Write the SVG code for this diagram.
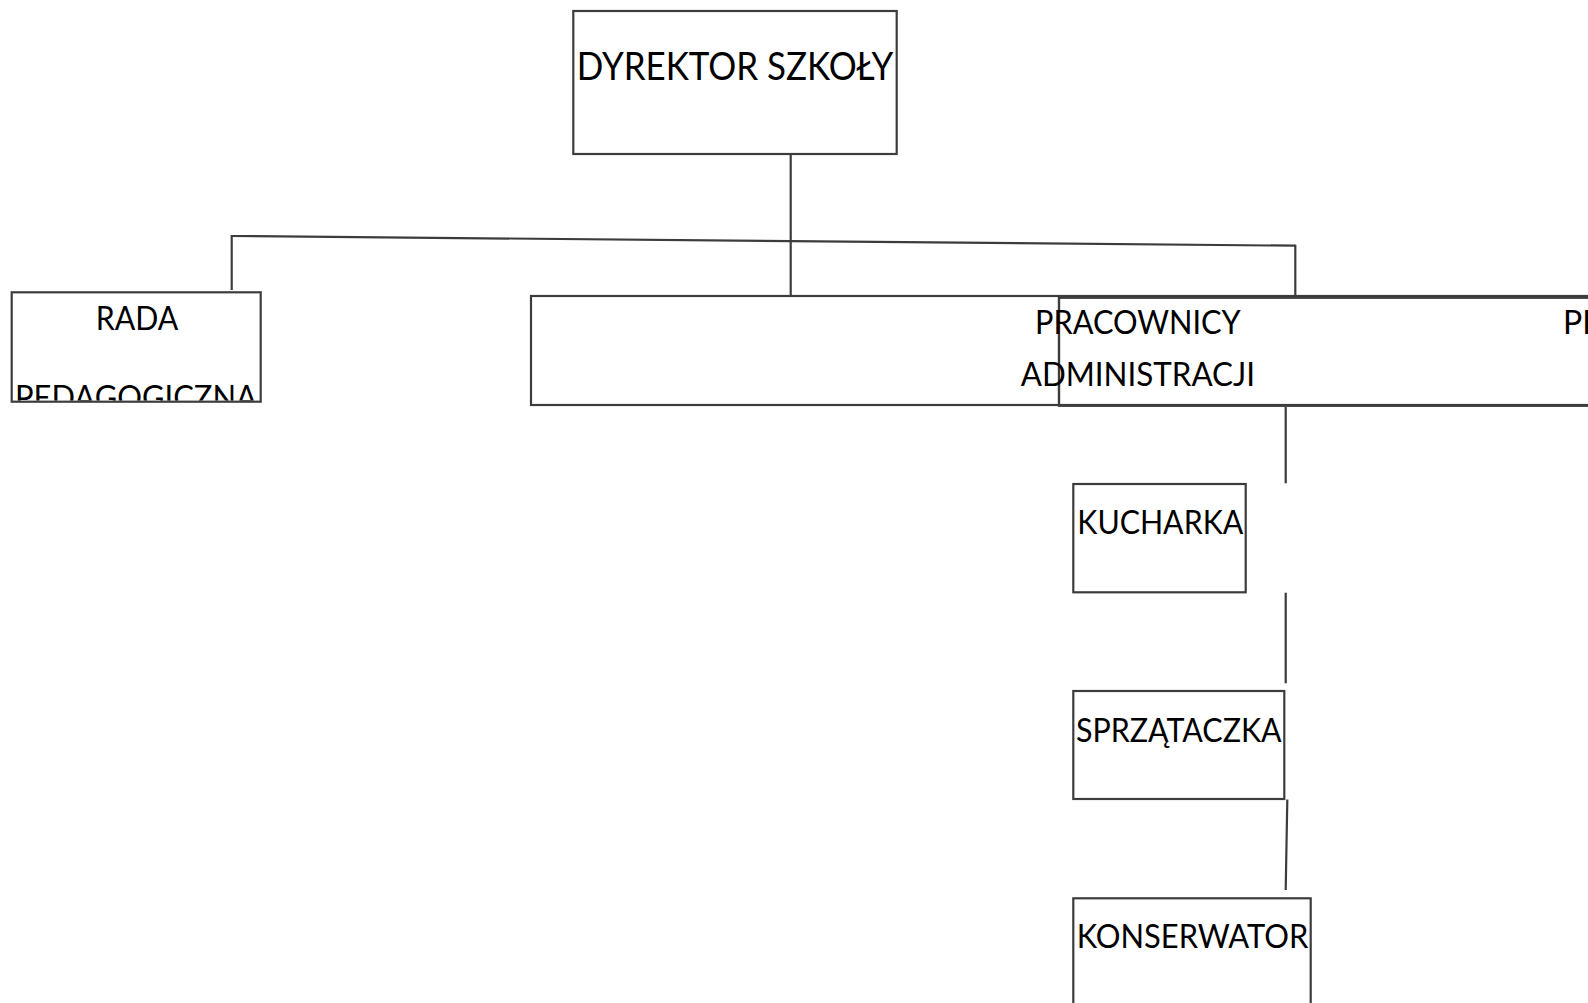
<svg xmlns="http://www.w3.org/2000/svg" width="1588" height="1003" viewBox="0 0 1588 1003">
<style>
.box{fill:#ffffff;stroke:#3c3c3c;stroke-width:2.2}
.open{fill:none;stroke:#3c3c3c;stroke-width:2.4}
.ln{fill:none;stroke:#3c3c3c;stroke-width:2.2}
.t{font-family:Lato,"Open Sans","Liberation Sans",sans-serif;font-size:32px;fill:#000000}
.tb{font-family:Lato,"Open Sans","Liberation Sans",sans-serif;font-size:38.3px;fill:#000000}
</style>
<defs>
<clipPath id="clipRada"><rect x="12.8" y="293.4" width="246.8" height="107.2"/></clipPath>
</defs>
<rect width="1588" height="1003" fill="#ffffff"/>
<g id="connectors">
<line class="ln" x1="790.7" y1="154" x2="790.7" y2="296"/>
<line class="ln" x1="231.7" y1="236" x2="1295.3" y2="245.7"/>
<line class="ln" x1="231.7" y1="235" x2="231.7" y2="290"/>
<line class="ln" x1="1295.3" y1="244.7" x2="1295.3" y2="296"/>
<line class="ln" x1="1285.7" y1="407" x2="1285.7" y2="483.3"/>
<line class="ln" x1="1285.7" y1="592.7" x2="1285.7" y2="683.3"/>
<line class="ln" x1="1287.3" y1="799.5" x2="1285.7" y2="890"/>
</g>
<g id="node-dyrektor">
<rect class="box" x="573.3" y="11" width="323.4" height="143"/>
<text class="tb" x="576.7" y="80" textLength="316.6" lengthAdjust="spacingAndGlyphs">DYREKTOR SZKOŁY</text>
</g>
<g id="node-rada">
<rect class="box" x="11.7" y="292.3" width="249" height="109.4"/>
<g clip-path="url(#clipRada)">
<text class="t" x="95.7" y="330" textLength="82.6" lengthAdjust="spacingAndGlyphs">RADA</text>
<text class="t" x="15" y="409" textLength="242" lengthAdjust="spacingAndGlyphs">PEDAGOGICZNA</text>
</g>
</g>
<g id="node-administracja">
<rect class="box" x="531" y="296" width="1200" height="109"/>
</g>
<g id="node-prawa">
<rect class="open" x="1059" y="297.7" width="600" height="108"/>
<text class="t" x="1563" y="334">PR</text>
</g>
<g id="label-administracja">
<text class="t" x="1035" y="334" textLength="205.7" lengthAdjust="spacingAndGlyphs">PRACOWNICY</text>
<text class="t" x="1020.7" y="385.7" textLength="234.3" lengthAdjust="spacingAndGlyphs">ADMINISTRACJI</text>
</g>
<g id="node-kucharka">
<rect class="box" x="1073.3" y="484" width="172.4" height="108.3"/>
<text class="t" x="1077.3" y="534" textLength="166" lengthAdjust="spacingAndGlyphs">KUCHARKA</text>
</g>
<g id="node-sprzataczka">
<rect class="box" x="1073.3" y="691" width="211" height="108"/>
<text class="t" x="1076" y="741.7" textLength="205.7" lengthAdjust="spacingAndGlyphs">SPRZĄTACZKA</text>
</g>
<g id="node-konserwator">
<rect class="box" x="1073.3" y="898.3" width="237.4" height="120"/>
<text class="t" x="1076.7" y="947.7" textLength="231.6" lengthAdjust="spacingAndGlyphs">KONSERWATOR</text>
</g>
</svg>
